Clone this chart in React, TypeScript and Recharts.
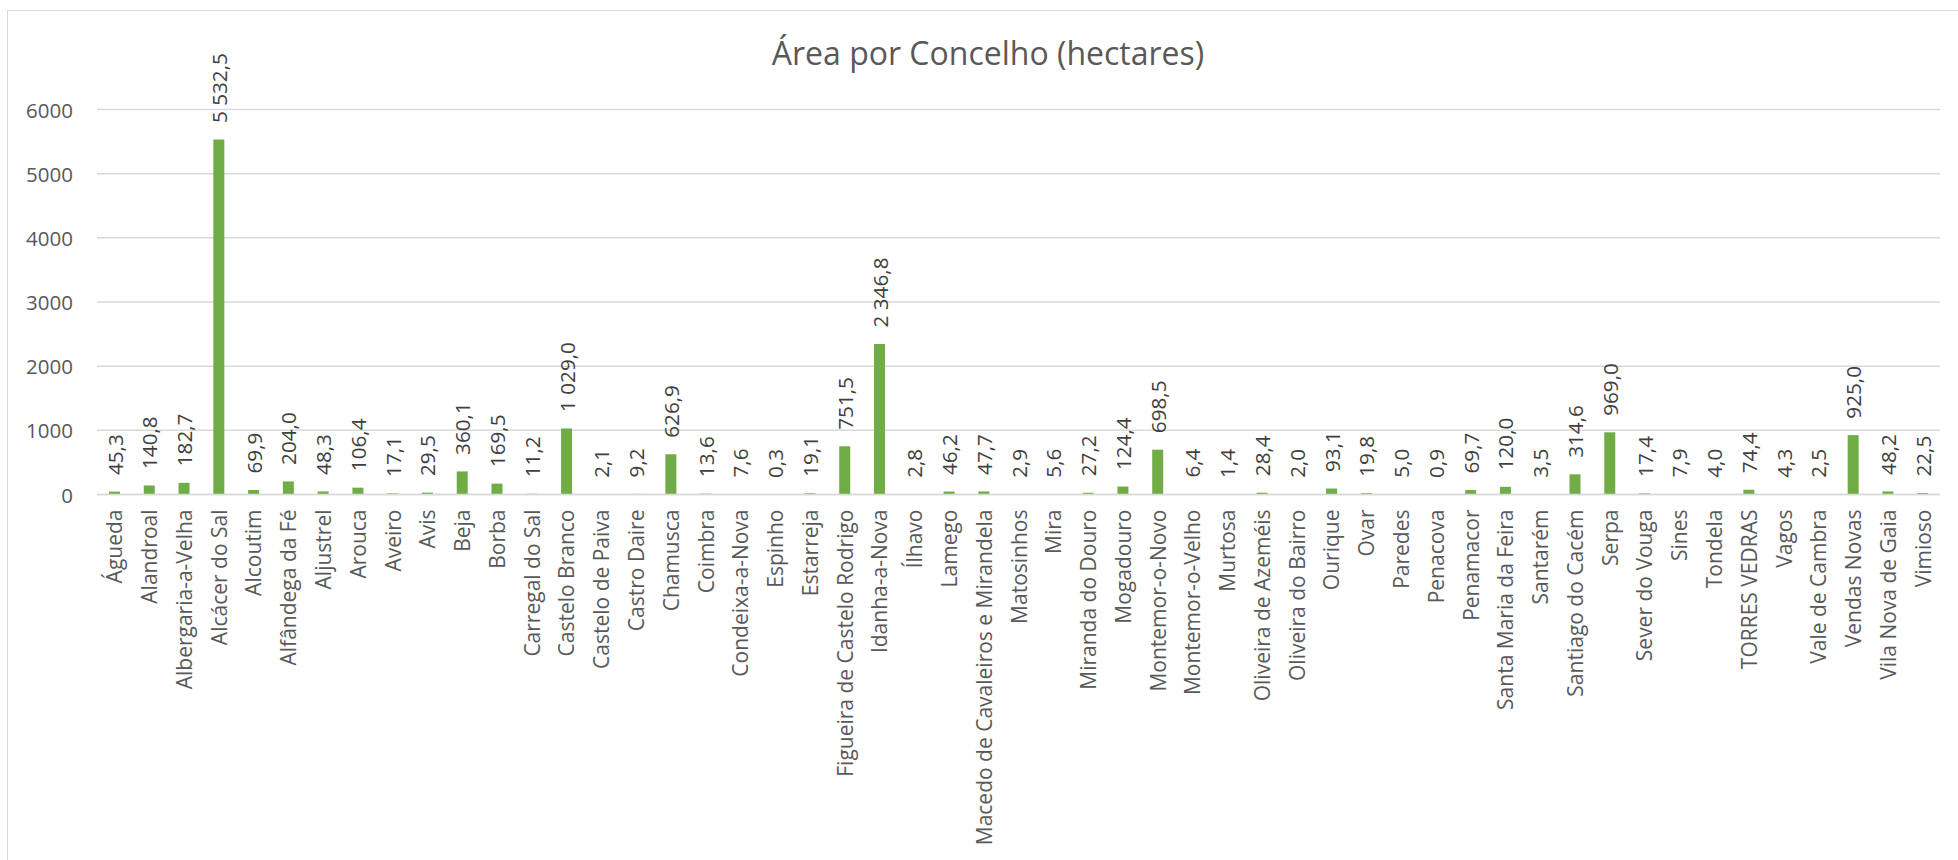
import { BarChart, XAxis, YAxis, Bar, CartesianGrid, LabelList } from "recharts";

const concelhos = [
  "Águeda", "Alandroal", "Albergaria-a-Velha", "Alcácer do Sal", "Alcoutim",
  "Alfândega da Fé", "Aljustrel", "Arouca", "Aveiro", "Avis", "Beja", "Borba",
  "Carregal do Sal", "Castelo Branco", "Castelo de Paiva", "Castro Daire",
  "Chamusca", "Coimbra", "Condeixa-a-Nova", "Espinho", "Estarreja",
  "Figueira de Castelo Rodrigo", "Idanha-a-Nova", "Ílhavo", "Lamego",
  "Macedo de Cavaleiros e Mirandela", "Matosinhos", "Mira", "Miranda do Douro",
  "Mogadouro", "Montemor-o-Novo", "Montemor-o-Velho", "Murtosa",
  "Oliveira de Azeméis", "Oliveira do Bairro", "Ourique", "Ovar", "Paredes",
  "Penacova", "Penamacor", "Santa Maria da Feira", "Santarém",
  "Santiago do Cacém", "Serpa", "Sever do Vouga", "Sines", "Tondela",
  "TORRES VEDRAS", "Vagos", "Vale de Cambra", "Vendas Novas",
  "Vila Nova de Gaia", "Vimioso",
];

const areas = [
  45.3, 140.8, 182.7, 5532.5, 69.9, 204.0, 48.3, 106.4, 17.1, 29.5, 360.1, 169.5,
  11.2, 1029.0, 2.1, 9.2, 626.9, 13.6, 7.6, 0.3, 19.1, 751.5, 2346.8, 2.8, 46.2,
  47.7, 2.9, 5.6, 27.2, 124.4, 698.5, 6.4, 1.4, 28.4, 2.0, 93.1, 19.8, 5.0, 0.9,
  69.7, 120.0, 3.5, 314.6, 969.0, 17.4, 7.9, 4.0, 74.4, 4.3, 2.5, 925.0, 48.2,
  22.5,
];

const yTicks = [0, 1000, 2000, 3000, 4000, 5000, 6000];

const title = "Área por Concelho (hectares)";

const data = concelhos.map((c, i) => ({ concelho: c, area: areas[i] }));

const FONT = "'Open Sans', 'Noto Sans', sans-serif";

function fmt(v: number) {
  const [i, d] = v.toFixed(1).split(".");
  return i.replace(/\B(?=(\d{3})+(?!\d))/g, " ") + "," + d;
}

const CategoryTick = (props: any) => {
  const { x, y, payload } = props;
  return (
    <text
      transform={`translate(${x},${y}) rotate(-90)`}
      textAnchor="end"
      dominantBaseline="central"
      fill="#595959"
      style={{ fontSize: 21, fontFamily: FONT }}
    >
      {payload.value}
    </text>
  );
};

const ValueTick = (props: any) => {
  const { x, y, payload } = props;
  return (
    <text
      x={x}
      y={y}
      textAnchor="end"
      dominantBaseline="central"
      fill="#595959"
      style={{ fontSize: 20.5, fontFamily: FONT }}
    >
      {payload.value}
    </text>
  );
};

const BarValue = (props: any) => {
  const { x, y, width, value } = props;
  return (
    <text
      transform={`translate(${x + width / 2},${y - 16.5}) rotate(-90)`}
      textAnchor="start"
      dominantBaseline="central"
      fill="#404040"
      style={{ fontSize: 20.7, fontFamily: FONT }}
    >
      {fmt(value)}
    </text>
  );
};

export default function App() {
  return (
    <div
      style={{
        position: "absolute",
        left: 0,
        top: 0,
        width: 1958,
        height: 860,
        overflow: "hidden",
        background: "#fff",
      }}
    >
      <div
        style={{
          position: "absolute",
          left: 7,
          top: 10,
          width: 2000,
          height: 900,
          border: "1.5px solid #d9d9d9",
        }}
      />
      <svg
        width={1958}
        height={860}
        style={{ position: "absolute", left: 0, top: 0, pointerEvents: "none" }}
      >
        <text
          x={988}
          y={65}
          textAnchor="middle"
          fill="#595959"
          style={{ fontSize: 32, fontFamily: FONT }}
        >
          {title}
        </text>
      </svg>
      <div style={{ position: "absolute", left: 0, top: 0 }}>
        <BarChart
          width={1958}
          height={860}
          data={data}
          margin={{ top: 109.5, right: 18, left: 0, bottom: 0 }}
        >
          <CartesianGrid vertical={false} stroke="#d9d9d9" strokeWidth={1.5} />
          <XAxis
            dataKey="concelho"
            interval={0}
            height={365.5}
            tickLine={false}
            tickSize={0}
            tickMargin={15}
            axisLine={{ stroke: "#d9d9d9", strokeWidth: 1.5 }}
            tick={<CategoryTick />}
          />
          <YAxis
            width={97}
            domain={[0, 6000]}
            ticks={yTicks}
            axisLine={false}
            tickLine={false}
            tickSize={0}
            tickMargin={24}
            tick={<ValueTick />}
          />
          <Bar dataKey="area" fill="#70AD47" barSize={11} isAnimationActive={false}>
            <LabelList dataKey="area" content={<BarValue />} />
          </Bar>
        </BarChart>
      </div>
    </div>
  );
}
